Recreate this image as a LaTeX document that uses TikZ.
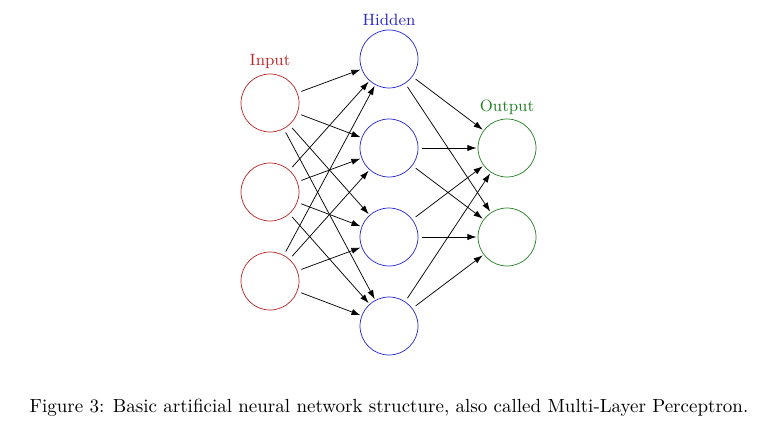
\documentclass[tikz,border=0pt]{standalone}
\usetikzlibrary{arrows.meta}
\definecolor{inred}{RGB}{185,40,40}
\definecolor{hidblue}{RGB}{40,40,205}
\definecolor{outgreen}{RGB}{35,130,35}
\begin{document}
\begin{tikzpicture}[x=0.55pt,y=-0.55pt,
  neuron/.style={circle,draw,line width=0.4pt,minimum size=31.9pt,inner sep=0pt},
  lbl/.style={font=\small},
  conn/.style={-{Latex[length=5pt,width=3.4pt]},line width=0.4pt,shorten <=2.2pt,shorten >=0.6pt}]
\useasboundingbox (0,0) rectangle (768,423);
\node[neuron,draw=inred] (i1) at (270,103) {};
\node[neuron,draw=inred] (i2) at (270,192) {};
\node[neuron,draw=inred] (i3) at (270,281) {};
\node[neuron,draw=hidblue] (h1) at (389,59) {};
\node[neuron,draw=hidblue] (h2) at (389,148) {};
\node[neuron,draw=hidblue] (h3) at (389,237) {};
\node[neuron,draw=hidblue] (h4) at (389,326) {};
\node[neuron,draw=outgreen] (o1) at (507,148) {};
\node[neuron,draw=outgreen] (o2) at (507,237) {};
\node[lbl,text=inred] (li) at (270,62) {Input};
\node[lbl,text=hidblue] (lh) at (389,20) {Hidden};
\node[lbl,text=outgreen] (lo) at (507,107) {Output};
\foreach \i in {1,2,3}{\foreach \h in {1,2,3,4}{\draw[conn] (i\i) -- (h\h);}}
\foreach \h in {1,2,3,4}{\foreach \o in {1,2}{\draw[conn] (h\h) -- (o\o);}}
\node[font=\fontsize{10.45pt}{12.5pt}\selectfont] (cap) at (389,408) {Figure 3: Basic artificial neural network structure, also called Multi-Layer Perceptron.};
\end{tikzpicture}
\end{document}
